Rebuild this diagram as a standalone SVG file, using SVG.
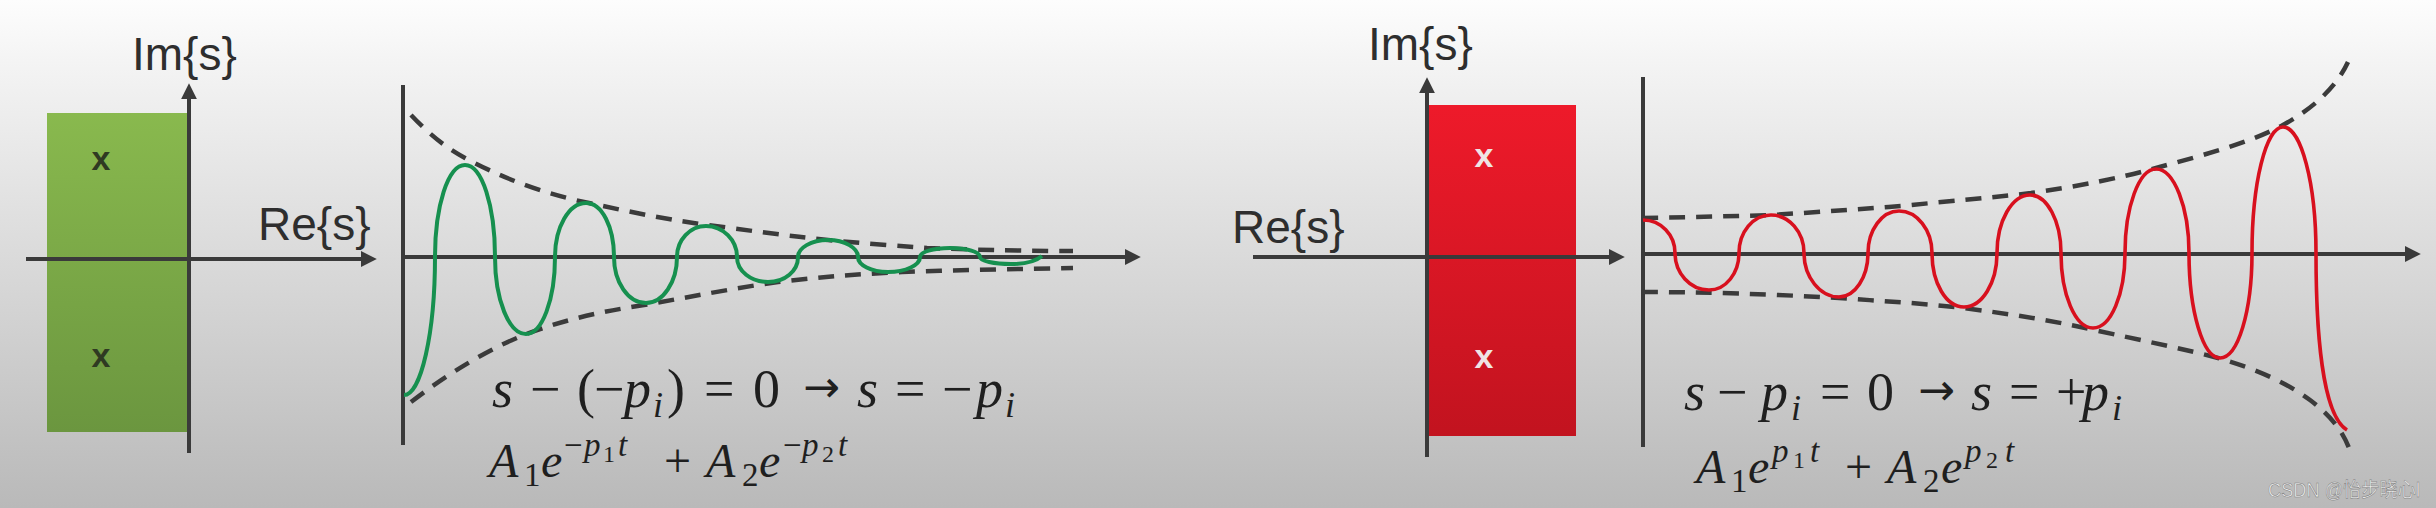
<svg xmlns="http://www.w3.org/2000/svg" width="2436" height="508" viewBox="0 0 2436 508">
<defs>
<linearGradient id="bg" x1="0" y1="0" x2="0" y2="1">
<stop offset="0" stop-color="#fdfdfd"/><stop offset="0.12" stop-color="#f4f4f4"/><stop offset="1" stop-color="#b9b9b9"/>
</linearGradient>
<linearGradient id="gr" x1="0" y1="0" x2="0" y2="1">
<stop offset="0" stop-color="#89b94e"/><stop offset="1" stop-color="#6b963f"/>
</linearGradient>
<linearGradient id="rd" x1="0" y1="0" x2="0" y2="1">
<stop offset="0" stop-color="#ee1a2a"/><stop offset="1" stop-color="#c2131f"/>
</linearGradient>
<marker id="ah" viewBox="0 0 10 10" refX="2" refY="5" markerWidth="16" markerHeight="16" markerUnits="userSpaceOnUse" orient="auto">
<path d="M0,0 L10,5 L0,10 z" fill="#3a3a3a"/>
</marker>
<style>
.ax{stroke:#3a3a3a;stroke-width:4;fill:none}
.dash{stroke:#3b3b3b;stroke-width:4.5;fill:none;stroke-dasharray:16 11}
.lab{font-family:"Liberation Sans",Arial,sans-serif;font-size:46px;fill:#2e2e2e}
.pole{font-family:"Liberation Sans",Arial,sans-serif;font-size:34px;font-weight:bold;text-anchor:middle}
.m1{font-family:"Liberation Serif","Times New Roman",serif;font-size:54px;fill:#1f1f1f}
.m2{font-family:"Liberation Serif","Times New Roman",serif;font-size:48px;fill:#1f1f1f}
.it{font-style:italic}
.arr{font-family:"DejaVu Sans",sans-serif;font-size:44px}
.s1{font-size:36px}
.s2{font-size:33px}
.s3{font-size:24px}
.wm{font-family:"Liberation Sans","Noto Sans CJK SC",sans-serif;font-size:20px;fill:#efefef;stroke:#7a7a7a;stroke-width:0.5}
</style>
</defs>
<rect x="0" y="0" width="2436" height="508" fill="url(#bg)"/>

<g id="left-s-plane">
<rect x="47" y="113" width="140" height="319" fill="url(#gr)"/>
<line class="ax" x1="26" y1="259" x2="364" y2="259" style="marker-end:url(#ah)"/>
<line class="ax" x1="189" y1="453" x2="189" y2="96" style="marker-end:url(#ah)"/>
<text class="lab" x="132" y="70">Im{s}</text>
<text class="lab" x="258" y="240">Re{s}</text>
<text class="pole" x="101" y="170" fill="#2f3a22">x</text>
<text class="pole" x="101" y="367" fill="#2f3a22">x</text>
</g>

<g id="left-response">
<line class="ax" x1="403" y1="85" x2="403" y2="445"/>
<line class="ax" x1="401" y1="257" x2="1128" y2="257" style="marker-end:url(#ah)"/>
<path class="dash" d="M411,115 C430,135 445,147 465,158 C510,182 550,195 589,203 C640,214 670,220 708,225 C760,232 790,236 828,240 C870,244 900,246 927,248 C980,250 1030,251 1073,251"/>
<path class="dash" d="M411,402 C450,372 490,348 529,333 C570,318 605,311 644,305 C690,297 735,288 778,282 C820,277 860,274 902,272 C960,270 1020,269 1073,268"/>
<path fill="none" stroke="#16904f" stroke-width="4" d="M404,395 C421,395 435,333 435,257 C435,206 448,165 465,165 C482,165 495,206 495,257 C495,300 509,334 526,334 C542,334 555,300 555,257 C555,227 569,203 586,203 C602,203 614,227 614,257 C614,282 628,303 646,303 C663,303 677,282 677,257 C677,240 690,226 706,226 C723,226 737,240 737,257 C737,271 751,282 768,282 C785,282 798,271 798,257 C798,248 811,240 828,240 C845,240 858,248 858,257 C858,265 871,272 888,272 C906,272 920,265 920,257 C920,252 933,248 950,248 C967,248 980,252 980,257 C980,261 994,264 1011,264 C1025,264 1035,262 1042,256"/>
<text class="m1"><tspan class="it" x="492" y="407">s</tspan><tspan x="530">−</tspan><tspan x="577">(</tspan><tspan x="594">−</tspan><tspan class="it" x="624">p</tspan><tspan class="it s1" x="653" y="417">i</tspan><tspan x="667" y="407">)</tspan><tspan x="704">=</tspan><tspan x="753">0</tspan><tspan class="arr" x="803" y="402">→</tspan><tspan class="it" x="857" y="407">s</tspan><tspan x="895">=</tspan><tspan x="942">−</tspan><tspan class="it" x="976">p</tspan><tspan class="it s1" x="1005" y="417">i</tspan></text>
<text class="m2"><tspan class="it" x="489" y="477">A</tspan><tspan class="s2" x="524" y="486">1</tspan><tspan class="it" x="541" y="477">e</tspan><tspan class="s2" x="564" y="456">−</tspan><tspan class="it s2" x="584">p</tspan><tspan class="s3" x="603" y="462">1</tspan><tspan class="it s2" x="618" y="456">t</tspan><tspan x="664" y="477">+</tspan><tspan class="it" x="706">A</tspan><tspan class="s2" x="742" y="486">2</tspan><tspan class="it" x="759" y="477">e</tspan><tspan class="s2" x="783" y="456">−</tspan><tspan class="it s2" x="802">p</tspan><tspan class="s3" x="822" y="462">2</tspan><tspan class="it s2" x="838" y="456">t</tspan></text>
</g>

<g id="right-s-plane">
<rect x="1428" y="105" width="148" height="331" fill="url(#rd)"/>
<line class="ax" x1="1253" y1="257" x2="1612" y2="257" style="marker-end:url(#ah)"/>
<line class="ax" x1="1427" y1="457" x2="1427" y2="90" style="marker-end:url(#ah)"/>
<text class="lab" x="1368" y="60">Im{s}</text>
<text class="lab" x="1232" y="243">Re{s}</text>
<text class="pole" x="1484" y="167" fill="#efe4e4">x</text>
<text class="pole" x="1484" y="368" fill="#efe4e4">x</text>
</g>

<g id="right-response">
<line class="ax" x1="1643" y1="77" x2="1643" y2="447"/>
<line class="ax" x1="1641" y1="254" x2="2408" y2="254" style="marker-end:url(#ah)"/>
<path class="dash" d="M1642,218 C1700,217 1740,216 1771,215 C1820,212 1860,209 1901,206 C1950,201 1990,198 2031,193 C2080,186 2120,178 2156,168 C2200,156 2250,143 2283,125 C2310,110 2335,90 2348,62"/>
<path class="dash" d="M1642,292 C1700,292 1770,294 1839,298 C1880,301 1920,303 1963,308 C2010,314 2050,320 2094,330 C2140,340 2180,348 2218,358 C2260,370 2290,385 2310,400 C2330,415 2342,430 2349,448"/>
<path fill="none" stroke="#d8101e" stroke-width="3.6" d="M1643,220 C1661,220 1675,235 1675,253 C1675,273 1690,290 1709,290 C1726,290 1739,273 1739,253 C1739,232 1753,215 1771,215 C1789,215 1804,232 1804,253 C1804,277 1820,297 1839,297 C1855,297 1868,277 1868,253 C1868,230 1882,211 1899,211 C1917,211 1932,230 1932,253 C1932,283 1946,307 1964,307 C1982,307 1997,283 1997,253 C1997,221 2012,195 2030,195 C2047,195 2061,221 2061,253 C2061,294 2075,328 2093,328 C2111,328 2125,294 2125,253 C2125,207 2139,169 2156,169 C2174,169 2189,207 2189,253 C2189,311 2203,358 2220,358 C2238,358 2252,311 2252,253 C2252,183 2266,127 2283,127 C2301,127 2316,183 2316,253 C2316,330 2322,415 2347,430"/>
<text class="m1"><tspan class="it" x="1684" y="410">s</tspan><tspan x="1717">−</tspan><tspan class="it" x="1761">p</tspan><tspan class="it s1" x="1791" y="420">i</tspan><tspan x="1820" y="410">=</tspan><tspan x="1867">0</tspan><tspan class="arr" x="1918" y="405">→</tspan><tspan class="it" x="1971" y="410">s</tspan><tspan x="2009">=</tspan><tspan x="2056">+</tspan><tspan class="it" x="2082">p</tspan><tspan class="it s1" x="2112" y="420">i</tspan></text>
<text class="m2"><tspan class="it" x="1696" y="483">A</tspan><tspan class="s2" x="1731" y="492">1</tspan><tspan class="it" x="1748" y="483">e</tspan><tspan class="it s2" x="1772" y="462">p</tspan><tspan class="s3" x="1793" y="468">1</tspan><tspan class="it s2" x="1810" y="462">t</tspan><tspan x="1845" y="483">+</tspan><tspan class="it" x="1887">A</tspan><tspan class="s2" x="1923" y="492">2</tspan><tspan class="it" x="1941" y="483">e</tspan><tspan class="it s2" x="1965" y="462">p</tspan><tspan class="s3" x="1986" y="468">2</tspan><tspan class="it s2" x="2005" y="462">t</tspan></text>
</g>

<text class="wm" x="2268" y="497" textLength="152" lengthAdjust="spacingAndGlyphs">CSDN @怡步晓心l</text>
</svg>
